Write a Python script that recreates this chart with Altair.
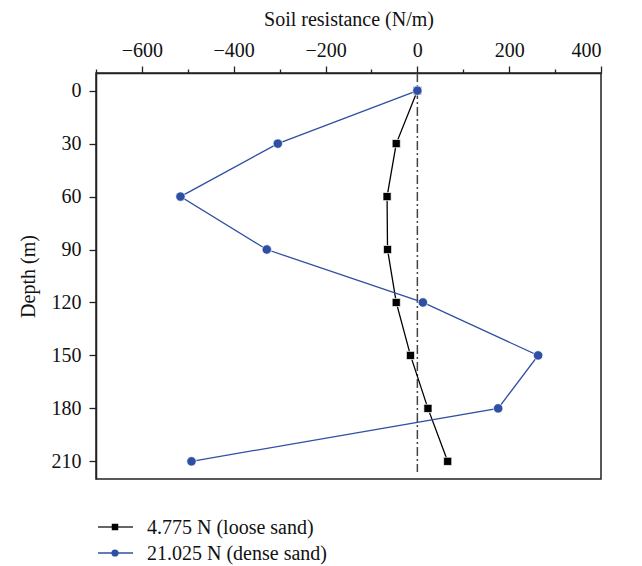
import altair as alt
import pandas as pd

depth = [0, 30, 60, 90, 120, 150, 180, 210]
loose = [0, -46, -66, -65, -46, -15, 23, 66]
dense = [0, -304, -516, -328, 12, 263, 176, -492]

series_names = ["4.775 N (loose sand)", "21.025 N (dense sand)"]
series_colors = ["#000000", "#2F4FA3"]
legend_line_colors = ["#333333", "#2F4FA3"]
series_shapes = ["square", "circle"]

x_ticks = list(range(-700, 401, 100))
y_ticks = list(range(0, 211, 15))

rows = []
for name, vals in zip(series_names, [loose, dense]):
    for d, v in zip(depth, vals):
        rows.append({"series": name, "depth": d, "resistance": v})
df = pd.DataFrame(rows)

FONT = "Liberation Serif"

x_enc = alt.X(
    "resistance:Q",
    scale=alt.Scale(domain=[-700, 400], nice=False, zero=False),
    axis=alt.Axis(
        orient="top",
        values=x_ticks,
        title="Soil resistance (N/m)",
        labelExpr="datum.value % 200 == 0 ? datum.label : ''",
        tickSize={"condition": {"test": "datum.value % 200 == 0", "value": 7}, "value": 4},
        labelPadding=6,
        titlePadding=11,
    ),
)
y_enc = alt.Y(
    "depth:Q",
    scale=alt.Scale(domain=[-10, 220], reverse=True, nice=False, zero=False),
    axis=alt.Axis(
        values=y_ticks,
        title="Depth (m)",
        labelExpr="datum.value % 30 == 0 ? datum.label : ''",
        tickSize={"condition": {"test": "datum.value % 30 == 0", "value": 7}, "value": 5},
        labelPadding=8,
        titlePadding=13,
    ),
)

zero_df = pd.DataFrame({"x": [0], "y": [-10], "y2": [216]})
zero_line = alt.Chart(zero_df).mark_rule(
    color="#444444", strokeWidth=1.5, strokeDash=[9, 3, 2, 3]
).encode(x="x:Q", y="y:Q", y2="y2:Q")

layers = [zero_line]
for name, col, shp in zip(series_names, series_colors, series_shapes):
    sub = alt.Chart(df[df["series"] == name])
    line = sub.mark_line(color=col, strokeWidth=1.3).encode(
        x=x_enc, y=y_enc, order="depth:Q"
    )
    pts = sub.mark_point(
        shape=shp, filled=True, color=col, size=66 if shp == "square" else 88,
        stroke="white", strokeWidth=0.7, opacity=1
    ).encode(x=x_enc, y=y_enc)
    layers += [line, pts]

# legend (below the plot area)
for i, (name, col, lcol, shp) in enumerate(zip(series_names, series_colors, legend_line_colors, series_shapes)):
    ldf = pd.DataFrame({"label": [name]})
    yy = 454 + 26 * i
    lg = alt.Chart(ldf)
    layers.append(lg.mark_rule(color=lcol, strokeWidth=1.5).encode(
        x=alt.value(2), x2=alt.value(37), y=alt.value(yy)))
    layers.append(lg.mark_point(shape=shp, filled=True, color=col, opacity=1,
                                size=42 if shp == "square" else 52).encode(
        x=alt.value(19), y=alt.value(yy)))
    layers.append(lg.mark_text(align="left", baseline="middle", font=FONT,
                               fontSize=20, color="#111111").encode(
        x=alt.value(51), y=alt.value(yy + 1), text="label:N"))

chart = alt.layer(*layers).properties(
    width=505,
    height=406,
    padding={"left": 96, "top": 73, "right": 41, "bottom": 87},
    autosize=alt.AutoSizeParams(type="none"),
    background="white",
).configure_view(
    stroke="#222222", strokeWidth=1.5
).configure_axis(
    grid=False,
    domainColor="#222222",
    domainWidth=1.5,
    tickColor="#222222",
    tickWidth=1.3,
    labelFont=FONT,
    labelFontSize=20,
    labelColor="#111111",
    titleFont=FONT,
    titleFontSize=20,
    titleFontWeight="normal",
    titleColor="#111111",
)

chart.save("out.html", embed_options={"renderer": "svg", "actions": False})
